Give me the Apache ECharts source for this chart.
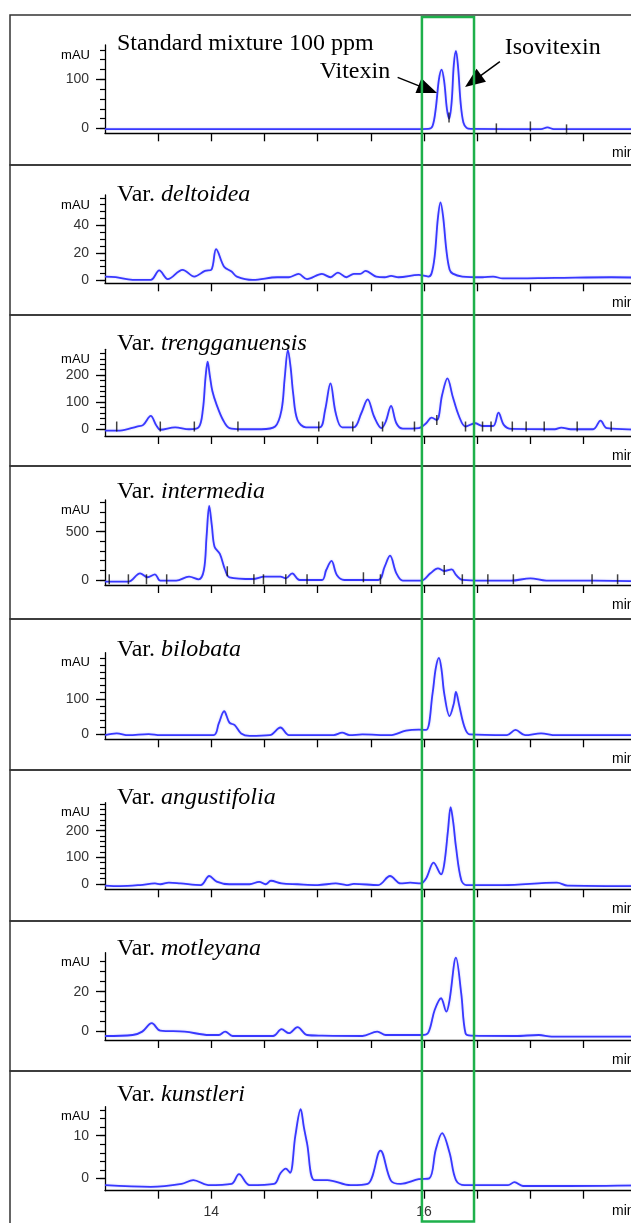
<!DOCTYPE html>
<html>
<head>
<meta charset="utf-8">
<script src="https://cdn.jsdelivr.net/npm/echarts@6/dist/echarts.min.js"></script>
<style>
html, body { margin: 0; padding: 0; background: #fff; overflow: hidden; }
#main { width: 680px; height: 1223px; }
</style>
</head>
<body>
<div id="main"></div>
<script>
// retention time (min) / absorbance (mAU)
var panelNames = ['Standard mixture 100 ppm', 'deltoidea', 'trengganuensis', 'intermedia',
                  'bilobata', 'angustifolia', 'motleyana', 'kunstleri'];

var stdMix = [[13.0,-1.5],[14.0,-1.5],[15.0,-1.5],[15.9,-1.5],[16.04,-1],[16.08,5],[16.11,40],[16.14,100],
  [16.165,120],[16.19,95],[16.215,40],[16.237,20],[16.26,55],[16.28,130],[16.30,158],[16.32,125],[16.345,50],
  [16.37,12],[16.40,1],[16.44,-1],[17.10,-1.5],[17.16,2],[17.22,-1.5],[18.2,-1.5]];
var deltoidea = [[13.0,2.9],[13.1,2.4],[13.26,0.5],[13.43,0.5],[13.51,7.3],[13.59,1],[13.73,7.8],[13.84,2.9],
  [13.94,7],[14.0,7.8],[14.045,22.8],[14.12,10],[14.19,6.5],[14.24,2.9],[14.39,0.5],[14.62,2.4],[14.73,2.4],
  [14.82,4.8],[14.9,1],[15.04,4.8],[15.12,2.4],[15.19,5.8],[15.27,2.4],[15.34,4.8],[15.4,4.8],[15.45,7],
  [15.55,2.9],[15.63,2.4],[15.69,3.4],[15.76,2.4],[15.95,4.1],[16.04,2.9],[16.07,5],[16.1,17.5],[16.13,45],
  [16.155,56.7],[16.18,46],[16.21,22],[16.24,8],[16.27,5],[16.36,2.9],[16.55,2.4],[16.65,2.9],[16.74,1.5],
  [17.23,1.9],[17.76,2.4],[18.2,1.7]];
var trengganuensis = [[13.0,-5],[13.14,-5],[13.3,10],[13.36,16],[13.43,49],[13.48,16],[13.52,-2],[13.66,7],
  [13.79,0],[13.88,7],[13.92,71],[13.945,190],[13.965,249],[13.985,200],[14.01,140],[14.05,90],[14.11,34],
  [14.17,4],[14.28,0],[14.47,0],[14.6,10],[14.66,71],[14.69,190],[14.72,292],[14.745,230],[14.77,130],
  [14.81,34],[14.89,7],[15.02,7],[15.07,71],[15.12,169],[15.17,59],[15.23,7],[15.34,7],[15.41,59],[15.47,110],
  [15.53,47],[15.6,4],[15.64,28],[15.69,86],[15.74,22],[15.8,2],[15.95,4],[16.02,22],[16.07,43],[16.12,34],
  [16.17,126],[16.22,188],[16.27,120],[16.33,47],[16.39,10],[16.48,22],[16.55,12],[16.65,12],[16.70,61],
  [16.75,16],[16.82,1],[17.23,0],[17.29,6],[17.38,0],[17.59,0],[17.66,32],[17.72,4],[18.2,-2]];
var intermedia = [[13.0,-17],[13.22,-17],[13.33,69],[13.4,28],[13.47,59],[13.52,-7],[13.67,-7],[13.79,34],
  [13.88,7],[13.93,103],[13.955,450],[13.98,766],[14.005,560],[14.03,345],[14.08,269],[14.13,103],[14.17,28],
  [14.39,10],[14.5,34],[14.65,34],[14.7,17],[14.76,69],[14.83,0],[15.04,0],[15.08,103],[15.13,197],[15.18,52],
  [15.25,0],[15.57,0],[15.63,138],[15.68,252],[15.74,69],[15.8,-7],[15.97,-7],[16.06,69],[16.13,121],
  [16.19,93],[16.26,110],[16.3,52],[16.36,0],[16.55,-7],[16.82,-7],[17.0,17],[17.15,-7],[17.61,-7],[18.2,-17]];
var bilobata = [[13.0,-3],[13.11,2],[13.22,-3],[13.41,0],[13.52,-3],[14.02,-3],[14.07,31],[14.12,66],[14.17,33],
  [14.22,26],[14.28,2],[14.36,-5],[14.55,-3],[14.65,19],[14.73,-3],[15.15,-3],[15.23,4],[15.3,-3],[15.42,-1],
  [15.68,-3],[15.83,10],[15.95,13],[16.02,12],[16.08,117],[16.11,190],[16.14,220],[16.165,185],[16.19,117],
  [16.24,52],[16.28,88],[16.30,122],[16.33,84],[16.38,21],[16.43,-1],[16.78,-3],[16.86,12],[16.95,-3],
  [17.1,2],[17.24,-3],[18.2,-3]];
var angustifolia = [[13.0,-6],[13.14,-8],[13.33,-4],[13.47,2],[13.52,-1],[13.6,5],[13.71,2],[13.9,-4],
  [13.98,30],[14.05,9],[14.17,-1],[14.36,-1],[14.45,8],[14.51,-1],[14.56,12],[14.66,2],[14.81,-1],[15.0,-4],
  [15.17,2],[15.27,-4],[15.34,0],[15.57,-4],[15.68,30],[15.78,2],[15.87,5],[15.97,2],[16.02,21],[16.09,80],
  [16.16,36],[16.19,75],[16.225,200],[16.25,288],[16.275,230],[16.3,140],[16.35,15],[16.4,-4],[16.74,-4],
  [17.25,5],[17.35,-6],[18.2,-8]];
var motleyana = [[13.0,-2.2],[13.26,-1.7],[13.35,0],[13.44,4.2],[13.52,0.5],[13.75,0],[13.98,-1.7],[14.07,-1.7],
  [14.13,0],[14.2,-2.2],[14.58,-2.2],[14.66,1.2],[14.73,-0.8],[14.81,2.2],[14.9,-1.7],[15.04,-2],[15.42,-2.2],
  [15.56,0],[15.64,-1.7],[15.98,-1.7],[16.04,-0.5],[16.1,10.8],[16.16,16.7],[16.21,10],[16.24,15.8],[16.3,37],
  [16.35,19],[16.39,-0.8],[16.44,-2],[16.86,-2.2],[17.08,-1.7],[17.2,-2.5],[18.2,-2.5]];
var kunstleri = [[13.0,-1.6],[13.43,-2],[13.72,-1.3],[13.83,-0.4],[13.97,-1.6],[14.19,-1.3],[14.26,1.0],
  [14.36,-1.6],[14.59,-1.3],[14.65,1.2],[14.70,2.3],[14.74,1.3],[14.79,10],[14.84,16.2],[14.87,12],[14.9,8.2],
  [14.97,-0.4],[15.09,-0.4],[15.31,-1.6],[15.47,-1.3],[15.59,6.5],[15.69,-0.6],[15.78,-1.3],[15.95,-0.2],
  [16.05,0],[16.11,6.7],[16.17,10.6],[16.24,6],[16.3,-0.4],[16.38,-1.6],[16.79,-1.6],[16.85,-0.9],[16.93,-1.8],
  [17.35,-1.8],[18.2,-1.6]];

// integration event marks drawn on the traces
var stdMixMarks = [[16.235,22],[16.68,0],[17.0,4],[17.34,-2]];
var trengMarks = [[13.11,10],[13.52,10],[13.84,10],[14.25,10],[15.01,10],[15.33,10],[15.61,10],[15.91,10],
  [16.12,34],[16.39,10],[16.55,10],[16.63,10],[16.83,10],[16.96,10],[17.13,10],[17.44,10],[17.76,10]];
var intermediaMarks = [[13.04,7],[13.22,7],[13.39,7],[13.58,7],[14.15,90],[14.4,7],[14.49,7],[14.7,7],[14.9,7],
  [15.43,28],[15.59,7],[16.19,103],[16.36,7],[16.6,7],[16.84,7],[17.58,7],[17.82,7]];

// y ranges and tick labels for each panel
var yMins = [-10, -2, -25, -52, -15, -20, -4.2, -2.9];
var yMaxs = [170, 62, 295, 828, 235, 305, 39.5, 16.8];
var yLabels = [[0,100],[0,20,40],[0,100,200],[0,500],[0,100],[0,100,200],[0,20],[0,10]];
var yMinor = [
  [0,20,40,60,80,100,120,140,160],
  [0,5,10,15,20,25,30,35,40,45,50,55,60],
  [0,20,40,60,80,100,120,140,160,180,200,220,240,260,280],
  [0,100,200,300,400,500,600,700,800],
  [0,20,40,60,80,100,120,140,160,180,200,220],
  [0,20,40,60,80,100,120,140,160,180,200,220,240,260,280,300],
  [0,5,10,15,20,25,30,35],
  [0,2,4,6,8,10,12,14,16]
];
var xTicks = [13.5,14,14.5,15,15.5,16,16.5,17,17.5,18];
var xLabels = [14, 16];
var boxTimes = [15.98, 16.47];
var vitexinLabels = [{name: 'Vitexin', coord: [15.35, 115]}, {name: 'Isovitexin', coord: [17.21, 164]}];
var arrows = [[[15.752,104],[16.035,79.5]], [[16.713,136],[16.462,96.5]]];

var traces = [stdMix, deltoidea, trengganuensis, intermedia, bilobata, angustifolia, motleyana, kunstleri];
var marks = [stdMixMarks, [], trengMarks, intermediaMarks, [], [], [], []];

// layout (px)
var panelTop = [15, 165, 315, 466, 619, 770, 921, 1071];
var gridTop = [45, 195, 349.3, 500, 652.7, 802.7, 952.7, 1106.7];
var axisY = [133.3, 283.3, 436, 585, 739.3, 889.3, 1040, 1190.7];
var titleBase = [51.5, 202.7, 352, 500, 658, 806, 957, 1103];
var serif = 'Liberation Serif, Times New Roman, serif';
var sans = 'Liberation Sans, Arial, sans-serif';
var blue = '#3838ff';

var myChart = echarts.init(document.getElementById('main'));
var grids = [], xAxes = [], yAxes = [], series = [], titles = [];

for (var i = 0; i < 8; i++) {
  grids.push({left: 105, width: 553, top: gridTop[i], height: axisY[i] - gridTop[i]});
  xAxes.push({
    type: 'value', gridIndex: i, min: 13, max: 18.2,
    axisLine: {onZero: false, lineStyle: {color: '#000', width: 1.3}},
    axisTick: {show: true, length: 8, customValues: xTicks, lineStyle: {color: '#000', width: 1.3}},
    axisLabel: {show: i === 7, customValues: xLabels, margin: 14, fontSize: 14, fontFamily: sans, color: '#333'},
    splitLine: {show: false},
    name: 'min', nameLocation: 'end', nameGap: -46,
    nameTextStyle: {align: 'left', verticalAlign: 'top', padding: [13, 0, 0, 0], fontSize: 14, fontFamily: sans, color: '#000'}
  });
  yAxes.push({
    type: 'value', gridIndex: i, position: 'left', min: yMins[i], max: yMaxs[i],
    axisLine: {show: true, onZero: false, lineStyle: {color: '#000', width: 1.3}},
    axisTick: {show: true, length: 9, customValues: yLabels[i], lineStyle: {color: '#000', width: 1.3}},
    axisLabel: {customValues: yLabels[i], margin: 16, fontSize: 14, fontFamily: sans, color: '#333'},
    splitLine: {show: false},
    name: 'mAU', nameLocation: 'end', nameGap: -10,
    nameTextStyle: {align: 'right', verticalAlign: 'middle', padding: [0, 15, 0, 0], fontSize: 13, fontFamily: sans, color: '#000'}
  });
  yAxes.push({
    type: 'value', gridIndex: i, position: 'left', min: yMins[i], max: yMaxs[i],
    axisLine: {show: false},
    axisTick: {show: true, length: 5, customValues: yMinor[i], lineStyle: {color: '#000', width: 1.2}},
    axisLabel: {show: false},
    splitLine: {show: false}
  });
  var s = {
    type: 'line', xAxisIndex: i, yAxisIndex: 2 * i, data: traces[i],
    showSymbol: false, smooth: 0.35, silent: true,
    lineStyle: {color: blue, width: 1.8, shadowColor: 'rgba(90,90,255,0.35)', shadowBlur: 2}
  };
  if (i === 0) {
    s.markPoint = {
      symbol: 'circle', symbolSize: 1, silent: true, itemStyle: {color: 'transparent'},
      label: {show: true, position: 'inside', formatter: '{b}', fontFamily: serif, fontSize: 24, color: '#000'},
      data: vitexinLabels
    };
    s.markLine = {
      silent: true, symbol: ['none', 'triangle'], symbolSize: [16, 20],
      lineStyle: {color: '#000', width: 1.5, type: 'solid'}, label: {show: false},
      itemStyle: {color: '#000'},
      data: arrows.map(function (a) { return [{coord: a[0]}, {coord: a[1]}]; })
    };
  }
  series.push(s);
  if (marks[i].length) {
    series.push({
      type: 'scatter', xAxisIndex: i, yAxisIndex: 2 * i, data: marks[i], silent: true,
      symbol: 'rect', symbolSize: [1.5, 10], itemStyle: {color: '#111'}, z: 3
    });
  }
  titles.push({
    text: i === 0 ? panelNames[0] : 'Var. {i|' + panelNames[i] + '}',
    left: 117, top: titleBase[i] - 20, padding: 0,
    textStyle: {fontFamily: serif, fontSize: 24, fontWeight: 'normal', color: '#000',
      rich: {i: {fontFamily: serif, fontSize: 24, fontStyle: 'italic', color: '#000'}}}
  });
}

var option = {
  animation: false,
  title: titles,
  grid: grids,
  xAxis: xAxes,
  yAxis: yAxes,
  series: series
};
myChart.setOption(option);

// panel frames and the green box around the vitexin/isovitexin window
var graphics = [];
for (var j = 0; j < 8; j++) {
  var bottom = j < 7 ? panelTop[j + 1] : 1240;
  graphics.push({type: 'rect', z: 1, shape: {x: 10, y: panelTop[j], width: 700, height: bottom - panelTop[j]},
    style: {fill: 'none', stroke: '#333', lineWidth: 1.5}});
}
var bx0 = myChart.convertToPixel({xAxisIndex: 0}, boxTimes[0]);
var bx1 = myChart.convertToPixel({xAxisIndex: 0}, boxTimes[1]);
graphics.push({type: 'rect', z: 100, shape: {x: bx0, y: 17, width: bx1 - bx0, height: 1204.5},
  style: {fill: 'none', stroke: '#1eb04b', lineWidth: 2.5}});
myChart.setOption({graphic: graphics});
</script>
</body>
</html>
